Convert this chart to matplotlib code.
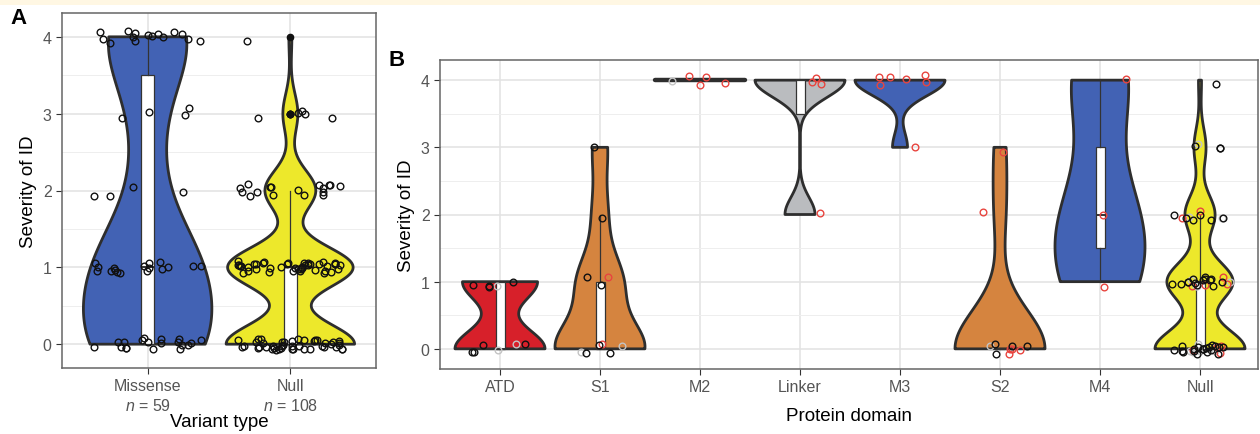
import numpy as np
import matplotlib.pyplot as plt
from matplotlib.patches import Rectangle

plt.rcParams['font.family'] = ['Liberation Sans', 'DejaVu Sans']
plt.rcParams['mathtext.fontset'] = 'custom'
plt.rcParams['mathtext.it'] = 'Liberation Sans:italic'
plt.rcParams['mathtext.rm'] = 'Liberation Sans'

# Panel A: severity scores per variant type (counts)
missense = [0] * 19 + [1] * 17 + [2] * 4 + [3] * 4 + [4] * 15
null_a = [0] * 43 + [1] * 42 + [2] * 17 + [3] * 5 + [4] * 1
variant_labels = ['Missense\n$\\it{n}$ = 59', 'Null\n$\\it{n}$ = 108']

# Panel B: severity per protein domain, with point colour codes (k=black, g=grey, r=red)
domains = ['ATD', 'S1', 'M2', 'Linker', 'M3', 'S2', 'M4', 'Null']
atd = [0, 0, 0, 0, 0, 0, 1, 1, 1, 1, 1]
atd_col = ['k', 'k', 'g', 'k', 'g', 'k', 'k', 'k', 'k', 'g', 'k']
s1 = [0, 0, 0, 0, 0, 0, 1, 1, 1, 2, 3]
s1_col = ['g', 'k', 'g', 'k', 'k', 'r', 'k', 'k', 'r', 'k', 'k']
m2 = [4, 4, 4, 4, 4]
m2_col = ['r', 'r', 'g', 'r', 'r']
linker = [2, 4, 4, 4]
linker_col = ['r', 'r', 'r', 'r']
m3 = [3, 4, 4, 4, 4, 4, 4]
m3_col = ['r'] * 7
s2 = [0, 0, 0, 0, 0, 0, 0, 0, 0, 2, 3]
s2_col = ['k', 'r', 'k', 'k', 'k', 'r', 'r', 'g', 'r', 'r', 'r']
m4 = [1, 2, 4]
m4_col = ['r', 'r', 'r']
null_b = [0] * 30 + [1] * 22 + [2] * 10 + [3] * 4 + [4] * 1
null_b_col = (['k'] * 20 + ['g'] * 6 + ['r'] * 4 + ['k'] * 14 + ['g'] * 4 + ['r'] * 4
              + ['k'] * 6 + ['g'] * 2 + ['r'] * 2 + ['k'] * 3 + ['g'] + ['k'])

domain_vals = [atd, s1, m2, linker, m3, s2, m4, null_b]
domain_cols = [atd_col, s1_col, m2_col, linker_col, m3_col, s2_col, m4_col, null_b_col]

BLUE = '#4262B4'
YELLOW = '#EDE82B'
RED = '#D7202A'
ORANGE = '#D5843F'
GREY = '#BABCBF'
EDGE = '#2E2E2E'
domain_fill = [RED, ORANGE, BLUE, GREY, BLUE, ORANGE, BLUE, YELLOW]
pt_colors = {'k': '#111111', 'g': '#C4C4C4', 'r': '#E8453F'}


def bw_nrd0(x):
    x = np.asarray(x, float)
    sd = np.std(x, ddof=1)
    q75, q25 = np.percentile(x, [75, 25])
    lo = min(sd, (q75 - q25) / 1.34)
    if lo == 0:
        lo = sd or abs(x[0]) or 1
    return 0.9 * lo * len(x) ** -0.2


def violin(ax, x0, vals, fill, width=0.9):
    vals = np.asarray(vals, float)
    lo, hi = vals.min(), vals.max()
    if hi == lo:
        ax.plot([x0 - width / 2, x0 + width / 2], [lo, lo], color=EDGE, lw=3.2,
                solid_capstyle='round', zorder=2)
        return
    ys = np.linspace(lo, hi, 512)
    bw = bw_nrd0(vals)
    dens = np.exp(-0.5 * ((ys[:, None] - vals[None, :]) / bw) ** 2).sum(axis=1)
    half = dens / dens.max() * width / 2
    ax.fill(np.r_[x0 - half, (x0 + half)[::-1]], np.r_[ys, ys[::-1]],
            facecolor=fill, edgecolor=EDGE, lw=2, joinstyle='round', zorder=2)


def box(ax, x0, vals, fliers):
    ax.boxplot([vals], positions=[x0], widths=0.09, patch_artist=True,
               showcaps=False, showfliers=fliers, manage_ticks=False,
               boxprops=dict(facecolor='white', edgecolor='#333333', lw=0.9),
               whiskerprops=dict(color='#333333', lw=0.9),
               medianprops=dict(color='#333333', lw=1.4),
               flierprops=dict(marker='o', markerfacecolor='#111111',
                               markeredgecolor='#111111', markersize=4.5),
               zorder=3)


def style(ax, ylim, xlim):
    ax.set_ylim(*ylim)
    ax.set_xlim(*xlim)
    ax.set_yticks([0, 1, 2, 3, 4])
    ax.set_yticks([0.5, 1.5, 2.5, 3.5], minor=True)
    ax.grid(True, which='major', color='#E2E2E2', lw=1.1, zorder=0)
    ax.grid(True, which='minor', axis='y', color='#EEEEEE', lw=0.7, zorder=0)
    ax.set_axisbelow(True)
    for sp in ax.spines.values():
        sp.set_color('#666666')
        sp.set_linewidth(1.1)
    ax.tick_params(which='major', length=4, color='#333333', labelsize=11.5,
                   labelcolor='#555555')
    ax.tick_params(which='minor', length=0)


fig = plt.figure(figsize=(12.6, 4.35), dpi=100)
fig.patches.append(Rectangle((0, 1 - 6 / 435), 1, 6 / 435, transform=fig.transFigure,
                             facecolor='#FFF7E3', edgecolor='none'))

W, H = 1260, 435
axA = fig.add_axes([62 / W, 1 - 369 / H, (376 - 62) / W, (369 - 14) / H])
axB = fig.add_axes([440 / W, 1 - 370 / H, (1258 - 440) / W, (370 - 61) / H])

rng = np.random.default_rng(7)

# Panel A
for i, (vals, fill) in enumerate([(missense, BLUE), (null_a, YELLOW)]):
    x0 = i + 1
    violin(axA, x0, vals, fill)
    box(axA, x0, vals, fliers=True)
    v = np.asarray(vals, float)
    jx = x0 + rng.uniform(-0.38, 0.38, len(v))
    jy = v + rng.uniform(-0.08, 0.08, len(v))
    axA.plot(jx, jy, 'o', mfc='none', mec='#111111', mew=1.0, ms=4.8, zorder=4)

style(axA, (-0.31, 4.31), (0.4, 2.6))
axA.set_xticks([1, 2])
axA.set_xticklabels(variant_labels, linespacing=1.25)
axA.set_xlabel('Variant type', fontsize=13.5, labelpad=0)
axA.set_ylabel('Severity of ID', fontsize=13.5, labelpad=4)

# Panel B
for i, (vals, cols, fill) in enumerate(zip(domain_vals, domain_cols, domain_fill)):
    x0 = i + 1
    violin(axB, x0, vals, fill)
    if min(vals) != max(vals):
        box(axB, x0, vals, fliers=False)
    v = np.asarray(vals, float)
    jx = x0 + rng.uniform(-0.3, 0.3, len(v))
    jy = v + rng.uniform(-0.08, 0.08, len(v))
    for c in ['g', 'r', 'k']:
        m = np.array([cc == c for cc in cols])
        axB.plot(jx[m], jy[m], 'o', mfc='none', mec=pt_colors[c], mew=1.0,
                 ms=4.8, zorder=4)

style(axB, (-0.3, 4.3), (0.4, 8.58))
axB.set_xticks(range(1, len(domains) + 1))
axB.set_xticklabels(domains)
axB.set_xlabel('Protein domain', fontsize=13.5, labelpad=9)
axB.set_ylabel('Severity of ID', fontsize=13.5, labelpad=4)

fig.text(10 / W, 1 - 18 / H, 'A', fontsize=16, fontweight='bold', va='center')
fig.text(389 / W, 1 - 61 / H, 'B', fontsize=16, fontweight='bold', va='center')

fig.savefig('out.png', dpi=100)
